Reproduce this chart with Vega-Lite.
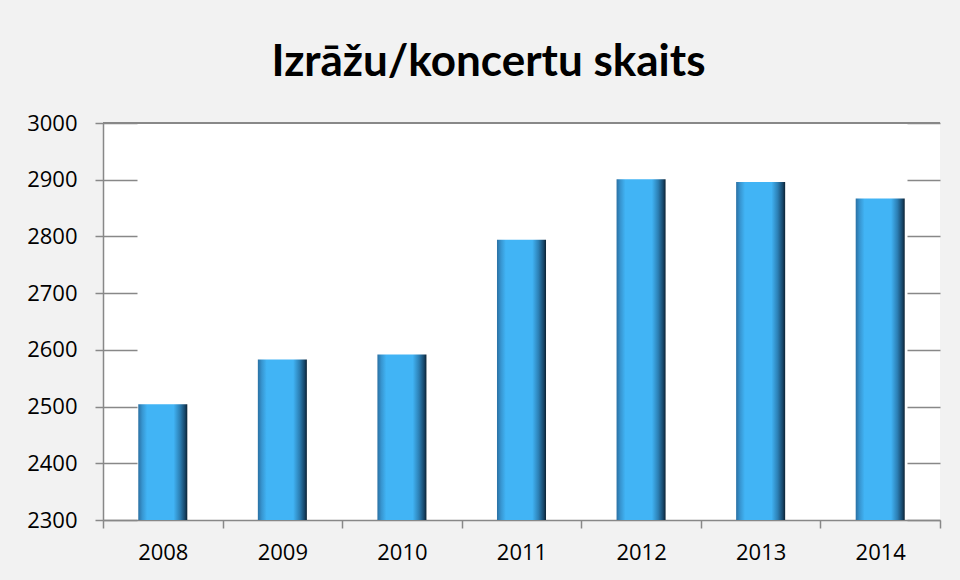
{
  "$schema": "https://vega.github.io/schema/vega-lite/v6.json",
  "autosize": {"type": "none"},
  "width": 837,
  "height": 397,
  "padding": {"left": 103, "top": 123, "right": 20, "bottom": 60},
  "background": "#f2f2f2",
  "config": {
    "view": {"fill": "white", "stroke": null},
    "axis": {"labelFont": "Open Sans", "labelFontSize": 22, "labelColor": "black", "domainColor": "#888888", "tickColor": "#888888", "domainWidth": 1.5, "tickWidth": 1.5, "title": null}
  },
  "title": {
    "text": "Izrāžu/koncertu skaits",
    "font": "Lato",
    "fontWeight": "bold",
    "fontSize": 44,
    "color": "black",
    "anchor": "middle",
    "dx": -33,
    "offset": 27
  },
  "data": {
    "values": [
      {"year": "2008", "count": 2504},
      {"year": "2009", "count": 2583},
      {"year": "2010", "count": 2592},
      {"year": "2011", "count": 2794},
      {"year": "2012", "count": 2901},
      {"year": "2013", "count": 2896},
      {"year": "2014", "count": 2867}
    ]
  },
  "layer": [
    {
      "mark": {
        "type": "bar",
        "clip": true,
        "width": {"band": 0.41},
        "color": {
          "gradient": "linear", "x1": 0, "x2": 1, "y1": 0, "y2": 0,
          "stops": [
            {"offset": 0, "color": "#2a70a3"},
            {"offset": 0.08, "color": "#3795d0"},
            {"offset": 0.18, "color": "#41b4f5"},
            {"offset": 0.72, "color": "#41b4f5"},
            {"offset": 0.85, "color": "#2c7fb4"},
            {"offset": 0.95, "color": "#17476a"},
            {"offset": 1, "color": "#0c2233"}
          ]
        }
      },
      "encoding": {
        "x": {"field": "year", "type": "ordinal", "scale": {"paddingInner": 0, "paddingOuter": 0},
              "axis": {"labelAngle": 0, "tickBand": "extent", "tickSize": 8, "labelPadding": 14, "grid": false}},
        "y": {"field": "count", "type": "quantitative", "scale": {"domain": [2300, 3000], "nice": false, "zero": false},
              "axis": {"orient": "left", "values": [2300, 2400, 2500, 2600, 2700, 2800, 2900, 3000], "format": "d", "tickSize": 8, "labelPadding": 18,
                       "grid": true, "gridColor": "#888888", "gridWidth": 1.5, "gridDash": [34, 770], "gridOpacity": 1}}
      }
    },
    {
      "mark": {"type": "rule", "color": "#888888", "strokeWidth": 1.5},
      "encoding": {"y": {"datum": 3000, "type": "quantitative"}}
    }
  ]
}
